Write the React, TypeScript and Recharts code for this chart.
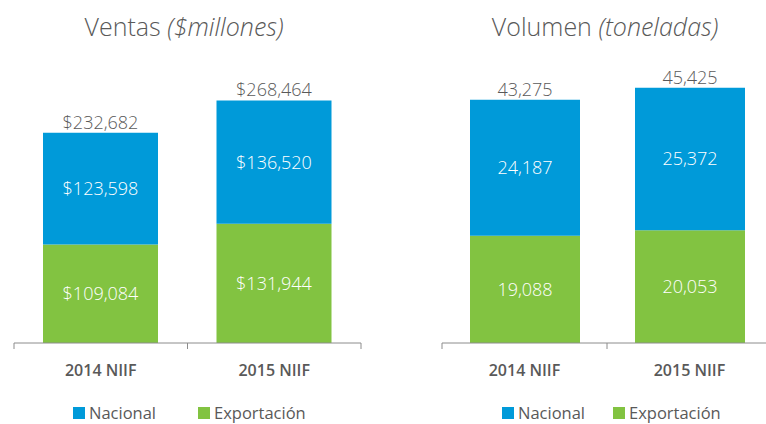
import { BarChart, Bar, XAxis, YAxis, Legend, LabelList } from 'recharts';

const years = ['2014 NIIF', '2015 NIIF'];

const ventasNacional = [123598, 136520];
const ventasExportacion = [109084, 131944];
const ventasTotal = [232682, 268464];

const volumenNacional = [24187, 25372];
const volumenExportacion = [19088, 20053];
const volumenTotal = [43275, 45425];

const BLUE = '#009ad9';
const GREEN = '#82c341';
const AXIS = '#8c8c8c';
const TEXT = '#595959';

const ventasData = years.map((year, i) => ({
  year,
  nacional: ventasNacional[i],
  exportacion: ventasExportacion[i],
  total: ventasTotal[i],
}));

const volumenData = years.map((year, i) => ({
  year,
  nacional: volumenNacional[i],
  exportacion: volumenExportacion[i],
  total: volumenTotal[i],
}));

const money = (v: any) => '$' + Number(v).toLocaleString('en-US');
const plain = (v: any) => Number(v).toLocaleString('en-US');

// excel style ticks: marks on the category boundaries, label in the middle
function CategoryTick(props: any) {
  const { x, y, payload, count } = props;
  const half = payload.offset || 0;
  return (
    <g>
      <line x1={x - half} y1={y - 6} x2={x - half} y2={y} stroke={AXIS} />
      {payload.index === count - 1 ? (
        <line x1={x + half} y1={y - 6} x2={x + half} y2={y} stroke={AXIS} />
      ) : null}
      <text x={x} y={y + 27} textAnchor="middle" fill={TEXT} fontSize={16} fontWeight={600}>
        {payload.value}
      </text>
    </g>
  );
}

const legendContent = (firstWidth: number) => (props: any) => {
  const items = [...(props.payload ?? [])].reverse();
  return (
    <div style={{ display: 'flex', alignItems: 'center', fontSize: 16.5, color: TEXT, height: 18, lineHeight: '18px' }}>
      {items.map((it: any, i: number) => (
        <div
          key={it.value}
          style={{ display: 'flex', alignItems: 'center', width: i === 0 ? firstWidth : undefined }}
        >
          <span style={{ width: 12, height: 12, background: it.color, marginRight: 4, display: 'inline-block' }} />
          <span>{it.value}</span>
        </div>
      ))}
    </div>
  );
};

function Title({ center, main, sub }: { center: number; main: string; sub: string }) {
  return (
    <div
      style={{
        position: 'absolute',
        left: center - 150,
        top: 11,
        width: 300,
        textAlign: 'center',
        fontSize: 25,
        fontWeight: 300,
        lineHeight: '30px',
        color: TEXT,
      }}
    >
      {main} <i>{sub}</i>
    </div>
  );
}

export default function App() {
  return (
    <div
      style={{
        position: 'absolute',
        left: 0,
        top: 0,
        width: 766,
        height: 424,
        overflow: 'hidden',
        background: '#fff',
        fontFamily: '"Open Sans", sans-serif',
      }}
    >
      <Title center={184} main="Ventas" sub="($millones)" />
      <Title center={605} main="Volumen" sub="(toneladas)" />

      <div style={{ position: 'absolute', left: 0, top: 0 }}>
        <BarChart
          width={383}
          height={424}
          data={ventasData}
          margin={{ top: 72, right: 22, left: 14, bottom: 0 }}
        >
          <XAxis
            dataKey="year"
            stroke={AXIS}
            tickLine={false}
            tickSize={6}
            tickMargin={0}
            height={63}
            interval={0}
            tick={<CategoryTick count={years.length} />}
          />
          <YAxis hide domain={[0, 300000]} />
          <Legend
            verticalAlign="bottom"
            wrapperStyle={{ left: 73, top: 404, width: 300 }}
            content={legendContent(125)}
          />
          <Bar dataKey="exportacion" name="Exportación" stackId="a" fill={GREEN} barSize={115} isAnimationActive={false}>
            <LabelList dataKey="exportacion" position="center" fill="#fff" fontSize={18} fontWeight={300} formatter={money} />
          </Bar>
          <Bar dataKey="nacional" name="Nacional" stackId="a" fill={BLUE} barSize={115} isAnimationActive={false}>
            <LabelList dataKey="nacional" position="center" fill="#fff" fontSize={18} fontWeight={300} formatter={money} />
            <LabelList dataKey="total" position="top" offset={4} fill={TEXT} fontSize={18} fontWeight={300} formatter={money} />
          </Bar>
        </BarChart>
      </div>

      <div style={{ position: 'absolute', left: 383, top: 0 }}>
        <BarChart
          width={400}
          height={424}
          data={volumenData}
          margin={{ top: 62, right: 11, left: 59, bottom: 0 }}
        >
          <XAxis
            dataKey="year"
            stroke={AXIS}
            tickLine={false}
            tickSize={6}
            tickMargin={0}
            height={63}
            interval={0}
            tick={<CategoryTick count={years.length} />}
          />
          <YAxis hide domain={[0, 50000]} />
          <Legend
            verticalAlign="bottom"
            wrapperStyle={{ left: 119, top: 404, width: 280 }}
            content={legendContent(111)}
          />
          <Bar dataKey="exportacion" name="Exportación" stackId="a" fill={GREEN} barSize={110} isAnimationActive={false}>
            <LabelList dataKey="exportacion" position="center" fill="#fff" fontSize={18} fontWeight={300} formatter={plain} />
          </Bar>
          <Bar dataKey="nacional" name="Nacional" stackId="a" fill={BLUE} barSize={110} isAnimationActive={false}>
            <LabelList dataKey="nacional" position="center" fill="#fff" fontSize={18} fontWeight={300} formatter={plain} />
            <LabelList dataKey="total" position="top" offset={4} fill={TEXT} fontSize={18} fontWeight={300} formatter={plain} />
          </Bar>
        </BarChart>
      </div>
    </div>
  );
}
